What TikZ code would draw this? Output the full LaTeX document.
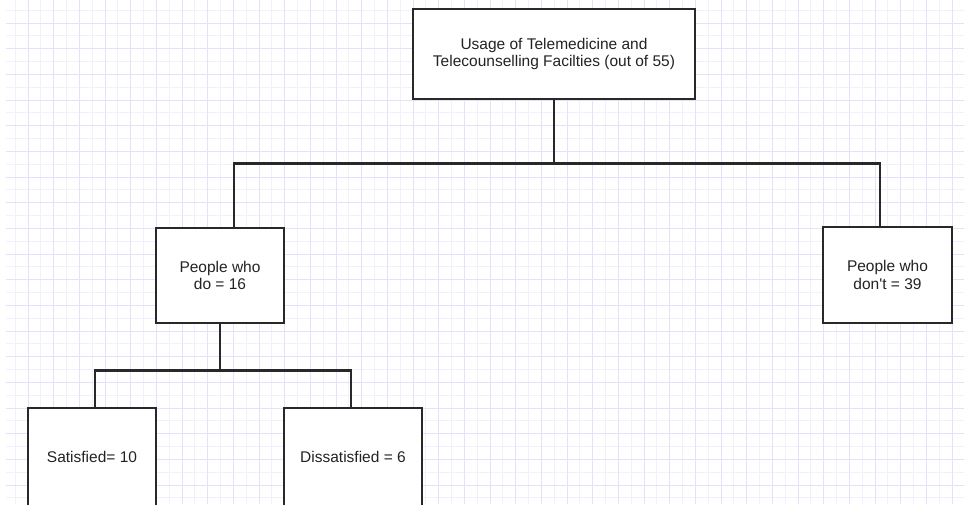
\documentclass[tikz,border=0pt]{standalone}
\usepackage{fontspec}
\setmainfont{Liberation Sans}
\usepackage{tikz}
\usetikzlibrary{positioning}

\definecolor{gridminor}{RGB}{241,241,253}
\definecolor{gridmajor}{RGB}{226,226,250}
\definecolor{edge}{RGB}{40,40,40}
\definecolor{ink}{RGB}{35,35,35}

\begin{document}
\begin{tikzpicture}[x=1pt, y=-1pt,
    box/.style={draw=edge, line width=2.8pt, fill=white, align=center, text=ink,
        inner sep=0pt, font=\fontsize{15.5}{17.7}\selectfont},
    link/.style={draw=edge, line width=2.8pt}]
    \useasboundingbox (0,0) rectangle (964,504);
    \clip (0,0) rectangle (964,504);
    % Grid
    \fill[white] (0,0) rectangle (964,504);
    \foreach \k in {1,3,...,75} \draw[gridminor, line width=1pt] ({2.33+12.835*\k},0) -- ++(0,504);
    \foreach \k in {1,3,...,39} \draw[gridminor, line width=1pt] (6,{-2.67+12.835*\k}) -- ++(958,0);
    \foreach \k in {2,4,...,74} \draw[gridmajor, line width=1pt] ({2.33+12.835*\k},0) -- ++(0,504);
    \foreach \k in {2,4,...,40} \draw[gridmajor, line width=1pt] (6,{-2.67+12.835*\k}) -- ++(958,0);
    % Nodes
    \node[box, minimum width=282, minimum height=90] (usage) at (554,54)
        {Usage of Telemedicine and\\Telecounselling Facilties (out of 55)};
    \node[box, minimum width=128, minimum height=95] (do) at (220,275.5) {People who\\do = 16};
    \node[box, minimum width=129, minimum height=96] (dont) at (887.5,275) {People who\\don\textquotesingle t = 39};
    \node[box, minimum width=128, minimum height=98] (satisfied) at (92,457) {Satisfied= 10};
    \node[box, minimum width=138, minimum height=98] (dissatisfied) at (353,457) {Dissatisfied = 6};
    % Connectors
    \draw[link] (usage.south) -- ++(0,63) -| ([xshift=14pt]do.north);
    \draw[link] (usage.south) -- ++(0,63) -| ([xshift=-7.5pt]dont.north);
    \draw[link] (do.south) -- ++(0,46) -| ([xshift=3pt]satisfied.north);
    \draw[link] (do.south) -- ++(0,46) -| ([xshift=-2pt]dissatisfied.north);
\end{tikzpicture}
\end{document}
